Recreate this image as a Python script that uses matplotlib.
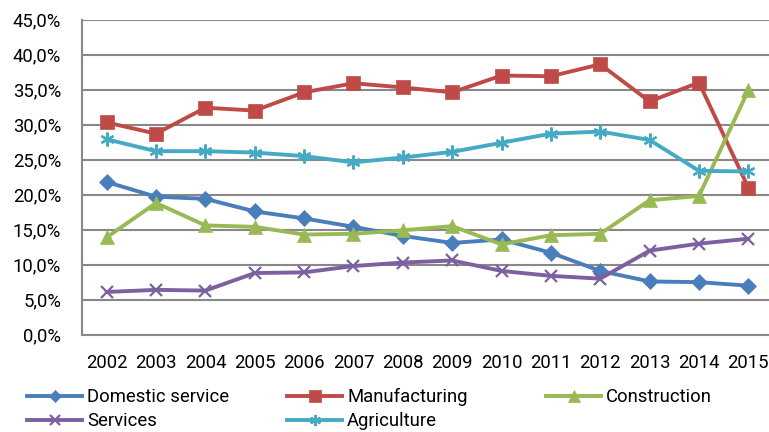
import matplotlib
matplotlib.use("Agg")
import matplotlib.pyplot as plt
from matplotlib.ticker import FuncFormatter

plt.rcParams['font.family'] = ['Roboto', 'DejaVu Sans']

years = ["2002", "2003", "2004", "2005", "2006", "2007", "2008", "2009",
         "2010", "2011", "2012", "2013", "2014", "2015"]
domestic = [21.8, 19.7, 19.4, 17.6, 16.6, 15.4, 14.1, 13.1, 13.6, 11.7, 9.1, 7.6, 7.5, 7.0]
manufacturing = [30.3, 28.7, 32.4, 32.0, 34.6, 35.9, 35.3, 34.6, 37.0, 36.9, 38.6, 33.3, 36.0, 21.0]
construction = [13.9, 18.8, 15.6, 15.4, 14.3, 14.4, 14.9, 15.5, 12.9, 14.2, 14.4, 19.2, 19.8, 34.9]
services = [6.1, 6.4, 6.3, 8.8, 8.9, 9.8, 10.3, 10.6, 9.1, 8.4, 8.0, 12.0, 13.0, 13.7]
agriculture = [27.9, 26.2, 26.2, 26.0, 25.5, 24.6, 25.3, 26.1, 27.4, 28.7, 29.0, 27.8, 23.4, 23.3]

names = ["Domestic service", "Manufacturing", "Construction", "Services", "Agriculture"]
series = [domestic, manufacturing, construction, services, agriculture]
colors = ["#4A7EBB", "#BE4B48", "#98B954", "#7D60A0", "#46AAC5"]
markers = ["D", "s", "^", "x", (6, 2, 0)]
msizes = [8, 10, 10, 9, 10]

W, H = 769, 432
fig = plt.figure(figsize=(W / 100, H / 100), dpi=100)
left, right, top, bottom = 82, 773, 19.5, 334.7
ax = fig.add_axes([left / W, 1 - bottom / H, (right - left) / W, (bottom - top) / H])

x = list(range(len(years)))
handles = []
for name, vals, c, m, ms in zip(names, series, colors, markers, msizes):
    h, = ax.plot(x, vals, color=c, lw=2.8, marker=m, markersize=ms,
                 markeredgewidth=1.6 if m in ("x",) or isinstance(m, tuple) else 0.5,
                 markeredgecolor=c, markerfacecolor=c, label=name, zorder=3)
    handles.append(h)

ax.set_xlim(-0.5, len(years) - 0.5)
ax.set_ylim(0, 45)
ax.set_yticks([i * 5 for i in range(10)])
ax.yaxis.set_major_formatter(FuncFormatter(lambda v, p: f"{v:.1f}".replace(".", ",") + "%"))
ax.set_xticks(x)
ax.set_xticklabels(years)
ax.grid(axis='y', color='#888888', lw=1.5, zorder=0)
ax.tick_params(length=0, labelsize=13.3, colors='black')
ax.tick_params(axis='y', pad=15)
ax.tick_params(axis='x', pad=14)
for s in ["top", "right"]:
    ax.spines[s].set_visible(False)
for s in ["left", "bottom"]:
    ax.spines[s].set_color('#888888')
    ax.spines[s].set_linewidth(1.5)

cols = [([0, 3], 27), ([1, 4], 287), ([2], 546)]
for idx, xpix in cols:
    leg = fig.legend(handles=[handles[i] for i in idx], loc='upper left',
                     bbox_to_anchor=(xpix / W, 1 - 388 / H),
                     frameon=False, fontsize=13.3, handlelength=3.0, handletextpad=0.25,
                     labelspacing=0.33, borderpad=0, borderaxespad=0, markerscale=0.8)

fig.savefig("out.png", dpi=100)
